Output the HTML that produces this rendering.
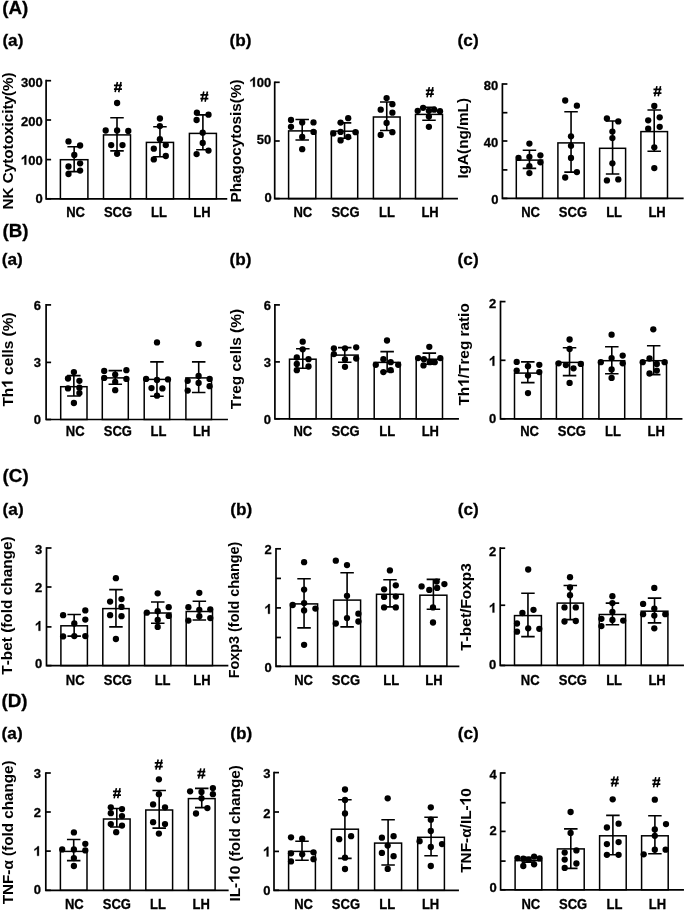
<!DOCTYPE html>
<html><head><meta charset="utf-8"><style>
html,body{margin:0;padding:0;background:#fff;width:685px;height:911px;overflow:hidden}
svg{display:block;will-change:transform}
text{font-family:"Liberation Sans", sans-serif;font-weight:bold;fill:#000;font-kerning:none;white-space:pre;stroke:#000;stroke-width:0.3px}
.tt text,.tt path{stroke-width:0.05px}
</style></head><body>
<svg width="685" height="911" viewBox="0 0 685 911">

<text x="2.2" y="14.4" font-size="18.8">(A)</text>
<text x="2.4" y="45.5" font-size="17.2">(a)</text>
<text x="229.6" y="45.8" font-size="17.2">(b)</text>
<text x="457.6" y="45.8" font-size="17.2">(c)</text>
<text x="2.5" y="236.7" font-size="18.8">(B)</text>
<text x="1.8" y="265.4" font-size="17.2">(a)</text>
<text x="229.6" y="265.2" font-size="17.2">(b)</text>
<text x="457.6" y="265.2" font-size="17.2">(c)</text>
<text x="2.6" y="482.2" font-size="18.8">(C)</text>
<text x="2.6" y="514.7" font-size="17.2">(a)</text>
<text x="230.2" y="514.7" font-size="17.2">(b)</text>
<text x="457.8" y="514.7" font-size="17.2">(c)</text>
<text x="1.5" y="706.7" font-size="18.8">(D)</text>
<text x="1.6" y="738.7" font-size="17.2">(a)</text>
<text x="230.2" y="739.1" font-size="17.2">(b)</text>
<text x="457.8" y="739.1" font-size="17.2">(c)</text>
<rect x="60.4" y="159.7" width="27.5" height="39.1" fill="#fff" stroke="#000" stroke-width="1.5"/>
<rect x="103.5" y="134.9" width="27" height="63.9" fill="#fff" stroke="#000" stroke-width="1.5"/>
<rect x="146.4" y="142.4" width="27.1" height="56.4" fill="#fff" stroke="#000" stroke-width="1.5"/>
<rect x="189.4" y="133.4" width="27" height="65.4" fill="#fff" stroke="#000" stroke-width="1.5"/>
<path d="M74.15 146.8V171.6M67.4 146.8H80.9M67.4 171.6H80.9" stroke="#000" stroke-width="1.6" fill="none"/>
<circle cx="68.5" cy="141.4" r="3.15"/>
<circle cx="80.1" cy="145.5" r="3.15"/>
<circle cx="74.3" cy="155" r="3.15"/>
<circle cx="80.1" cy="163.3" r="3.15"/>
<circle cx="68.5" cy="166.5" r="3.15"/>
<circle cx="80.1" cy="170.6" r="3.15"/>
<circle cx="68.5" cy="174" r="3.15"/>
<text transform="translate(75.55 216.6) scale(1 1.07)" font-size="13" text-anchor="middle">NC</text>
<path d="M117 117.8V150.9M110.25 117.8H123.75M110.25 150.9H123.75" stroke="#000" stroke-width="1.6" fill="none"/>
<circle cx="117.1" cy="103" r="3.15"/>
<circle cx="105.7" cy="130.5" r="3.15"/>
<circle cx="117.1" cy="130.5" r="3.15"/>
<circle cx="128.3" cy="130.9" r="3.15"/>
<circle cx="111.2" cy="145.1" r="3.15"/>
<circle cx="122.5" cy="145.1" r="3.15"/>
<circle cx="117.1" cy="153.8" r="3.15"/>
<path d="M113.95 85.25H121.95M113.95 89.05H121.95" stroke="#000" stroke-width="1.75" fill="none"/><path d="M117.4 82L115.15 92.2M121.05 82L118.7 92.2" stroke="#000" stroke-width="1.6" fill="none"/>
<text transform="translate(118 216.6) scale(1 1.07)" font-size="13" text-anchor="middle">SCG</text>
<path d="M159.95 126.8V156.8M153.2 126.8H166.7M153.2 156.8H166.7" stroke="#000" stroke-width="1.6" fill="none"/>
<circle cx="159.9" cy="118.5" r="3.15"/>
<circle cx="159.9" cy="126.1" r="3.15"/>
<circle cx="159.9" cy="139.2" r="3.15"/>
<circle cx="165.8" cy="145.1" r="3.15"/>
<circle cx="153.8" cy="148.7" r="3.15"/>
<circle cx="165.8" cy="156" r="3.15"/>
<circle cx="153.8" cy="159.4" r="3.15"/>
<text transform="translate(159 216.6) scale(1 1.07)" font-size="13" text-anchor="middle">LL</text>
<path d="M202.9 114.9V149.7M196.15 114.9H209.65M196.15 149.7H209.65" stroke="#000" stroke-width="1.6" fill="none"/>
<circle cx="196.9" cy="112.7" r="3.15"/>
<circle cx="208.5" cy="114.7" r="3.15"/>
<circle cx="196.6" cy="120" r="3.15"/>
<circle cx="202.7" cy="132.7" r="3.15"/>
<circle cx="202.7" cy="142.9" r="3.15"/>
<circle cx="208.5" cy="150.6" r="3.15"/>
<circle cx="196.6" cy="154.1" r="3.15"/>
<path d="M200.35 94.75H208.35M200.35 98.55H208.35" stroke="#000" stroke-width="1.75" fill="none"/><path d="M203.8 91.5L201.55 101.7M207.45 91.5L205.1 101.7" stroke="#000" stroke-width="1.6" fill="none"/>
<text transform="translate(202 216.6) scale(1 1.07)" font-size="13" text-anchor="middle">LH</text>
<path d="M46.1 80.7V198.8H226.4" stroke="#000" stroke-width="1.7" fill="none" stroke-linecap="square"/>
<path d="M46.1 80.7H51.1" stroke="#000" stroke-width="1.7"/>
<g transform="translate(42.7 87.07) scale(1 1.04)"><text x="-21.69" font-size="13">300</text></g>
<path d="M46.1 120H51.1" stroke="#000" stroke-width="1.7"/>
<g transform="translate(42.7 126.17) scale(1 1.04)"><text x="-21.69" font-size="13">200</text></g>
<path d="M46.1 159.6H51.1" stroke="#000" stroke-width="1.7"/>
<g transform="translate(42.7 164.67) scale(1 1.04)"><path d="M-16.43 0.00L-18.22 0.00L-18.22 -6.76Q-19.48 -5.59 -20.91 -4.94L-20.91 -6.57Q-18.83 -7.47 -17.66 -9.31L-16.43 -9.31Z" stroke="#000" stroke-width="0.3"/><text x="-14.46" font-size="13">00</text></g>
<path d="M46.1 198.8H51.1" stroke="#000" stroke-width="1.7"/>
<g transform="translate(42.7 203.47) scale(1 1.04)"><text x="-7.23" font-size="13">0</text></g>
<g class="tt" transform="translate(12.85 140.9) rotate(-90) scale(1.0167 1.02)"><text x="-67.50" font-size="15">NK Cytotoxicity(%)</text></g>
<rect x="288.6" y="130.9" width="27.2" height="67.7" fill="#fff" stroke="#000" stroke-width="1.5"/>
<rect x="331.4" y="131.2" width="26.3" height="67.4" fill="#fff" stroke="#000" stroke-width="1.5"/>
<rect x="373.4" y="117" width="26.7" height="81.6" fill="#fff" stroke="#000" stroke-width="1.5"/>
<rect x="415.5" y="114.4" width="27" height="84.2" fill="#fff" stroke="#000" stroke-width="1.5"/>
<path d="M302.2 119.5V140M295.45 119.5H308.95M295.45 140H308.95" stroke="#000" stroke-width="1.6" fill="none"/>
<circle cx="291" cy="120" r="3.15"/>
<circle cx="302.2" cy="122.4" r="3.15"/>
<circle cx="313.5" cy="122.4" r="3.15"/>
<circle cx="291" cy="126.8" r="3.15"/>
<circle cx="313.5" cy="131.9" r="3.15"/>
<circle cx="302.2" cy="137" r="3.15"/>
<circle cx="302.2" cy="149.2" r="3.15"/>
<text transform="translate(302.8 216.6) scale(1 1.07)" font-size="13" text-anchor="middle">NC</text>
<path d="M344.55 122.9V138.2M337.8 122.9H351.3M337.8 138.2H351.3" stroke="#000" stroke-width="1.6" fill="none"/>
<circle cx="348.2" cy="118.2" r="3.15"/>
<circle cx="340.6" cy="122.6" r="3.15"/>
<circle cx="340.6" cy="131.9" r="3.15"/>
<circle cx="333.3" cy="133.4" r="3.15"/>
<circle cx="355.5" cy="132.2" r="3.15"/>
<circle cx="348.2" cy="137" r="3.15"/>
<circle cx="340.6" cy="140.4" r="3.15"/>
<text transform="translate(345.5 216.6) scale(1 1.07)" font-size="13" text-anchor="middle">SCG</text>
<path d="M386.75 102V130.5M380 102H393.5M380 130.5H393.5" stroke="#000" stroke-width="1.6" fill="none"/>
<circle cx="386.6" cy="98.1" r="3.15"/>
<circle cx="392.4" cy="104.2" r="3.15"/>
<circle cx="380.7" cy="109.7" r="3.15"/>
<circle cx="392.4" cy="112.7" r="3.15"/>
<circle cx="386.6" cy="122.9" r="3.15"/>
<circle cx="392.4" cy="132.2" r="3.15"/>
<circle cx="380.7" cy="134.9" r="3.15"/>
<text transform="translate(387 216.6) scale(1 1.07)" font-size="13" text-anchor="middle">LL</text>
<path d="M429 107.4V120.3M422.25 107.4H435.75M422.25 120.3H435.75" stroke="#000" stroke-width="1.6" fill="none"/>
<circle cx="423.1" cy="107.8" r="3.15"/>
<circle cx="417.7" cy="110.8" r="3.15"/>
<circle cx="428.9" cy="110.8" r="3.15"/>
<circle cx="434.2" cy="109.7" r="3.15"/>
<circle cx="440" cy="111.2" r="3.15"/>
<circle cx="428.9" cy="116.6" r="3.15"/>
<circle cx="428.9" cy="126.8" r="3.15"/>
<path d="M425.85 90.35H433.85M425.85 94.15H433.85" stroke="#000" stroke-width="1.75" fill="none"/><path d="M429.3 87.1L427.05 97.3M432.95 87.1L430.6 97.3" stroke="#000" stroke-width="1.6" fill="none"/>
<text transform="translate(430.1 216.6) scale(1 1.07)" font-size="13" text-anchor="middle">LH</text>
<path d="M274.7 82.3V198.6H457.1" stroke="#000" stroke-width="1.7" fill="none" stroke-linecap="square"/>
<path d="M274.7 82.3H279.7" stroke="#000" stroke-width="1.7"/>
<g transform="translate(271.3 86.87) scale(1 1.04)"><path d="M-16.43 0.00L-18.22 0.00L-18.22 -6.76Q-19.48 -5.59 -20.91 -4.94L-20.91 -6.57Q-18.83 -7.47 -17.66 -9.31L-16.43 -9.31Z" stroke="#000" stroke-width="0.3"/><text x="-14.46" font-size="13">00</text></g>
<path d="M274.7 141H279.7" stroke="#000" stroke-width="1.7"/>
<g transform="translate(271.2 144.27) scale(1 1.04)"><text x="-14.46" font-size="13">50</text></g>
<path d="M274.7 198.6H279.7" stroke="#000" stroke-width="1.7"/>
<g transform="translate(271.7 202.37) scale(1 1.04)"><text x="-7.23" font-size="13">0</text></g>
<g class="tt" transform="translate(240.65 140.9) rotate(-90) scale(1.0187 1.02)"><text x="-60.43" font-size="15">Phagocytosis(%)</text></g>
<rect x="516.3" y="160.1" width="26.3" height="38.3" fill="#fff" stroke="#000" stroke-width="1.5"/>
<rect x="557.9" y="142.9" width="26.3" height="55.5" fill="#fff" stroke="#000" stroke-width="1.5"/>
<rect x="599.6" y="148.3" width="26" height="50.1" fill="#fff" stroke="#000" stroke-width="1.5"/>
<rect x="640.9" y="131.6" width="26.6" height="66.8" fill="#fff" stroke="#000" stroke-width="1.5"/>
<path d="M529.45 150.2V168.4M522.7 150.2H536.2M522.7 168.4H536.2" stroke="#000" stroke-width="1.6" fill="none"/>
<circle cx="529.4" cy="143.6" r="3.15"/>
<circle cx="518.5" cy="157.9" r="3.15"/>
<circle cx="529.4" cy="156.8" r="3.15"/>
<circle cx="540.4" cy="155.3" r="3.15"/>
<circle cx="540.4" cy="162.3" r="3.15"/>
<circle cx="529.4" cy="166.2" r="3.15"/>
<circle cx="529.4" cy="173.1" r="3.15"/>
<text transform="translate(530.6 216.6) scale(1 1.07)" font-size="13" text-anchor="middle">NC</text>
<path d="M571.05 111.8V172.1M564.3 111.8H577.8M564.3 172.1H577.8" stroke="#000" stroke-width="1.6" fill="none"/>
<circle cx="565.2" cy="100.5" r="3.15"/>
<circle cx="576.9" cy="105.7" r="3.15"/>
<circle cx="571" cy="136.3" r="3.15"/>
<circle cx="571" cy="145.8" r="3.15"/>
<circle cx="571" cy="157.9" r="3.15"/>
<circle cx="576.9" cy="172.1" r="3.15"/>
<circle cx="565.2" cy="177.5" r="3.15"/>
<text transform="translate(572.95 216.6) scale(1 1.07)" font-size="13" text-anchor="middle">SCG</text>
<path d="M612.6 121V174M605.85 121H619.35M605.85 174H619.35" stroke="#000" stroke-width="1.6" fill="none"/>
<circle cx="606.9" cy="118.5" r="3.15"/>
<circle cx="618.3" cy="121.4" r="3.15"/>
<circle cx="612.4" cy="131.6" r="3.15"/>
<circle cx="612.4" cy="138.1" r="3.15"/>
<circle cx="612.4" cy="163.3" r="3.15"/>
<circle cx="606.9" cy="180.4" r="3.15"/>
<circle cx="618.3" cy="179.4" r="3.15"/>
<text transform="translate(614.1 216.6) scale(1 1.07)" font-size="13" text-anchor="middle">LL</text>
<path d="M654.2 110V151.2M647.45 110H660.95M647.45 151.2H660.95" stroke="#000" stroke-width="1.6" fill="none"/>
<circle cx="654.3" cy="106" r="3.15"/>
<circle cx="659.7" cy="117.3" r="3.15"/>
<circle cx="648.2" cy="120.3" r="3.15"/>
<circle cx="659.7" cy="126.8" r="3.15"/>
<circle cx="648.2" cy="128.7" r="3.15"/>
<circle cx="654.3" cy="147.3" r="3.15"/>
<circle cx="654.3" cy="168.1" r="3.15"/>
<path d="M653.45 89.35H661.45M653.45 93.15H661.45" stroke="#000" stroke-width="1.75" fill="none"/><path d="M656.9 86.1L654.65 96.3M660.55 86.1L658.2 96.3" stroke="#000" stroke-width="1.6" fill="none"/>
<text transform="translate(657.1 216.6) scale(1 1.07)" font-size="13" text-anchor="middle">LH</text>
<path d="M502.4 84V198.4H682.8" stroke="#000" stroke-width="1.7" fill="none" stroke-linecap="square"/>
<path d="M502.4 84H507.4" stroke="#000" stroke-width="1.7"/>
<g transform="translate(498.2 89.87) scale(1 1.04)"><text x="-14.46" font-size="13">80</text></g>
<path d="M502.4 112.7H507.4" stroke="#000" stroke-width="1.7"/>
<path d="M502.4 141H507.4" stroke="#000" stroke-width="1.7"/>
<g transform="translate(498.2 146.97) scale(1 1.04)"><text x="-14.46" font-size="13">40</text></g>
<path d="M502.4 169.9H507.4" stroke="#000" stroke-width="1.7"/>
<path d="M502.4 198.4H507.4" stroke="#000" stroke-width="1.7"/>
<g transform="translate(498.4 203.77) scale(1 1.04)"><text x="-7.23" font-size="13">0</text></g>
<g class="tt" transform="translate(467.85 138.2) rotate(-90) scale(1.0182 1.02)"><text x="-39.57" font-size="15">IgA(ng/mL)</text></g>
<rect x="60.7" y="386.7" width="26.3" height="32.8" fill="#fff" stroke="#000" stroke-width="1.5"/>
<rect x="102.3" y="377.9" width="26" height="41.6" fill="#fff" stroke="#000" stroke-width="1.5"/>
<rect x="144.2" y="379.4" width="25.5" height="40.1" fill="#fff" stroke="#000" stroke-width="1.5"/>
<rect x="185.9" y="377.9" width="25.6" height="41.6" fill="#fff" stroke="#000" stroke-width="1.5"/>
<path d="M73.85 375.6V396M67.1 375.6H80.6M67.1 396H80.6" stroke="#000" stroke-width="1.6" fill="none"/>
<circle cx="73.9" cy="372.1" r="3.15"/>
<circle cx="68" cy="378.5" r="3.15"/>
<circle cx="79.4" cy="380.8" r="3.15"/>
<circle cx="68" cy="388.4" r="3.15"/>
<circle cx="79.4" cy="387.7" r="3.15"/>
<circle cx="79.4" cy="393.1" r="3.15"/>
<circle cx="73.9" cy="403" r="3.15"/>
<text transform="translate(75.15 435.5) scale(1 1.07)" font-size="13" text-anchor="middle">NC</text>
<path d="M115.3 370.6V384.3M108.55 370.6H122.05M108.55 384.3H122.05" stroke="#000" stroke-width="1.6" fill="none"/>
<circle cx="104.2" cy="370.9" r="3.15"/>
<circle cx="126.4" cy="370.2" r="3.15"/>
<circle cx="115.2" cy="374.6" r="3.15"/>
<circle cx="104.2" cy="377.9" r="3.15"/>
<circle cx="126.4" cy="378.9" r="3.15"/>
<circle cx="115.2" cy="381.9" r="3.15"/>
<circle cx="115.2" cy="390.2" r="3.15"/>
<text transform="translate(117.9 435.5) scale(1 1.07)" font-size="13" text-anchor="middle">SCG</text>
<path d="M156.95 361.9V396.2M150.2 361.9H163.7M150.2 396.2H163.7" stroke="#000" stroke-width="1.6" fill="none"/>
<circle cx="157" cy="342.4" r="3.15"/>
<circle cx="146.1" cy="378.9" r="3.15"/>
<circle cx="157" cy="380" r="3.15"/>
<circle cx="168" cy="379.4" r="3.15"/>
<circle cx="151.5" cy="388.1" r="3.15"/>
<circle cx="162.4" cy="388.4" r="3.15"/>
<circle cx="157" cy="395.7" r="3.15"/>
<text transform="translate(158.55 435.5) scale(1 1.07)" font-size="13" text-anchor="middle">LL</text>
<path d="M198.7 361.9V392.5M191.95 361.9H205.45M191.95 392.5H205.45" stroke="#000" stroke-width="1.6" fill="none"/>
<circle cx="198.6" cy="343.9" r="3.15"/>
<circle cx="198.6" cy="376" r="3.15"/>
<circle cx="209.6" cy="378.9" r="3.15"/>
<circle cx="187.7" cy="380.8" r="3.15"/>
<circle cx="198.6" cy="382.9" r="3.15"/>
<circle cx="209.6" cy="386.2" r="3.15"/>
<circle cx="187.7" cy="390.6" r="3.15"/>
<text transform="translate(201.7 435.5) scale(1 1.07)" font-size="13" text-anchor="middle">LH</text>
<path d="M46.1 304.9V419.5H227.1" stroke="#000" stroke-width="1.7" fill="none" stroke-linecap="square"/>
<path d="M46.1 304.9H51.1" stroke="#000" stroke-width="1.7"/>
<g transform="translate(41 310.22) scale(1 1.04)"><text x="-7.23" font-size="13">6</text></g>
<path d="M46.1 362.4H51.1" stroke="#000" stroke-width="1.7"/>
<g transform="translate(41 367.07) scale(1 1.04)"><text x="-7.23" font-size="13">3</text></g>
<path d="M46.1 419.5H51.1" stroke="#000" stroke-width="1.7"/>
<g transform="translate(41 424.07) scale(1 1.04)"><text x="-7.23" font-size="13">0</text></g>
<g class="tt" transform="translate(12.65 359.5) rotate(-90) scale(1.0271 1.02)"><text x="-45.85" font-size="15">Th</text><path d="M-21.45 0.00L-23.52 0.00L-23.52 -7.80Q-24.97 -6.45 -26.62 -5.70L-26.62 -7.58Q-24.22 -8.62 -22.87 -10.74L-21.45 -10.74Z" stroke="#000" stroke-width="0.3"/><text x="-19.18" font-size="15"> cells (%)</text></g>
<rect x="289.5" y="359.2" width="26.6" height="59.6" fill="#fff" stroke="#000" stroke-width="1.5"/>
<rect x="331.4" y="355.1" width="26.7" height="63.7" fill="#fff" stroke="#000" stroke-width="1.5"/>
<rect x="374.2" y="362.4" width="25.9" height="56.4" fill="#fff" stroke="#000" stroke-width="1.5"/>
<rect x="416.2" y="359.2" width="26.3" height="59.6" fill="#fff" stroke="#000" stroke-width="1.5"/>
<path d="M302.8 348.7V368.3M296.05 348.7H309.55M296.05 368.3H309.55" stroke="#000" stroke-width="1.6" fill="none"/>
<circle cx="302.7" cy="341.7" r="3.15"/>
<circle cx="302.7" cy="349.3" r="3.15"/>
<circle cx="296.8" cy="357.5" r="3.15"/>
<circle cx="308.5" cy="359.2" r="3.15"/>
<circle cx="296.8" cy="363.9" r="3.15"/>
<circle cx="308.5" cy="366.5" r="3.15"/>
<circle cx="296.8" cy="370.2" r="3.15"/>
<text transform="translate(302.8 435.8) scale(1 1.07)" font-size="13" text-anchor="middle">NC</text>
<path d="M344.75 347.6V362.2M338 347.6H351.5M338 362.2H351.5" stroke="#000" stroke-width="1.6" fill="none"/>
<circle cx="333.9" cy="348.3" r="3.15"/>
<circle cx="345" cy="348.3" r="3.15"/>
<circle cx="356.2" cy="347.3" r="3.15"/>
<circle cx="333.9" cy="354.1" r="3.15"/>
<circle cx="345" cy="359.5" r="3.15"/>
<circle cx="356.2" cy="358.5" r="3.15"/>
<circle cx="345" cy="366.8" r="3.15"/>
<text transform="translate(345.6 435.8) scale(1 1.07)" font-size="13" text-anchor="middle">SCG</text>
<path d="M387.15 351.6V371.6M380.4 351.6H393.9M380.4 371.6H393.9" stroke="#000" stroke-width="1.6" fill="none"/>
<circle cx="387" cy="340.5" r="3.15"/>
<circle cx="383.4" cy="359.2" r="3.15"/>
<circle cx="390.7" cy="362.2" r="3.15"/>
<circle cx="375.8" cy="364.8" r="3.15"/>
<circle cx="398.2" cy="364.8" r="3.15"/>
<circle cx="390.7" cy="370.2" r="3.15"/>
<circle cx="383.4" cy="372.1" r="3.15"/>
<text transform="translate(387.2 435.8) scale(1 1.07)" font-size="13" text-anchor="middle">LL</text>
<path d="M429.35 353.1V364.3M422.6 353.1H436.1M422.6 364.3H436.1" stroke="#000" stroke-width="1.6" fill="none"/>
<circle cx="429.3" cy="346.8" r="3.15"/>
<circle cx="418.1" cy="358.1" r="3.15"/>
<circle cx="423.9" cy="359.2" r="3.15"/>
<circle cx="440.3" cy="358.1" r="3.15"/>
<circle cx="429.8" cy="362.2" r="3.15"/>
<circle cx="434.7" cy="362.2" r="3.15"/>
<circle cx="423.5" cy="365.4" r="3.15"/>
<text transform="translate(430.3 435.8) scale(1 1.07)" font-size="13" text-anchor="middle">LH</text>
<path d="M274.9 304.9V418.8H458.1" stroke="#000" stroke-width="1.7" fill="none" stroke-linecap="square"/>
<path d="M274.9 304.9H279.9" stroke="#000" stroke-width="1.7"/>
<g transform="translate(270.9 310.17) scale(1 1.04)"><text x="-7.23" font-size="13">6</text></g>
<path d="M274.9 361.9H279.9" stroke="#000" stroke-width="1.7"/>
<g transform="translate(270.9 367.07) scale(1 1.04)"><text x="-7.23" font-size="13">3</text></g>
<path d="M274.9 418.8H279.9" stroke="#000" stroke-width="1.7"/>
<g transform="translate(270.9 424.07) scale(1 1.04)"><text x="-7.23" font-size="13">0</text></g>
<g class="tt" transform="translate(241.15 359.5) rotate(-90) scale(1.0281 1.02)"><text x="-48.35" font-size="15">Treg cells (%)</text></g>
<rect x="514.5" y="373.1" width="26.6" height="45.7" fill="#fff" stroke="#000" stroke-width="1.5"/>
<rect x="556.4" y="362.4" width="26.3" height="56.4" fill="#fff" stroke="#000" stroke-width="1.5"/>
<rect x="598.9" y="360.7" width="25.8" height="58.1" fill="#fff" stroke="#000" stroke-width="1.5"/>
<rect x="640.9" y="360.7" width="25.6" height="58.1" fill="#fff" stroke="#000" stroke-width="1.5"/>
<path d="M527.8 361.9V382.6M521.05 361.9H534.55M521.05 382.6H534.55" stroke="#000" stroke-width="1.6" fill="none"/>
<circle cx="516.7" cy="361.9" r="3.15"/>
<circle cx="528" cy="366.2" r="3.15"/>
<circle cx="539.3" cy="364.8" r="3.15"/>
<circle cx="516.7" cy="370.6" r="3.15"/>
<circle cx="539.3" cy="372.1" r="3.15"/>
<circle cx="528" cy="375.6" r="3.15"/>
<circle cx="528" cy="393.1" r="3.15"/>
<text transform="translate(529.6 435.5) scale(1 1.07)" font-size="13" text-anchor="middle">NC</text>
<path d="M569.55 347.8V375.6M562.8 347.8H576.3M562.8 375.6H576.3" stroke="#000" stroke-width="1.6" fill="none"/>
<circle cx="569.6" cy="339.5" r="3.15"/>
<circle cx="569.6" cy="349" r="3.15"/>
<circle cx="558.6" cy="363.3" r="3.15"/>
<circle cx="565.9" cy="365.1" r="3.15"/>
<circle cx="580.8" cy="363.9" r="3.15"/>
<circle cx="573.5" cy="368.3" r="3.15"/>
<circle cx="569.6" cy="382.9" r="3.15"/>
<text transform="translate(571.9 435.5) scale(1 1.07)" font-size="13" text-anchor="middle">SCG</text>
<path d="M611.8 346.8V373.8M605.05 346.8H618.55M605.05 373.8H618.55" stroke="#000" stroke-width="1.6" fill="none"/>
<circle cx="611.6" cy="334.7" r="3.15"/>
<circle cx="622.7" cy="355.6" r="3.15"/>
<circle cx="611.6" cy="358.1" r="3.15"/>
<circle cx="600.8" cy="362.2" r="3.15"/>
<circle cx="622.7" cy="363.3" r="3.15"/>
<circle cx="611.6" cy="369.5" r="3.15"/>
<circle cx="611.6" cy="377.9" r="3.15"/>
<text transform="translate(613 435.5) scale(1 1.07)" font-size="13" text-anchor="middle">LL</text>
<path d="M653.7 345.8V374.6M646.95 345.8H660.45M646.95 374.6H660.45" stroke="#000" stroke-width="1.6" fill="none"/>
<circle cx="653.3" cy="329.3" r="3.15"/>
<circle cx="649.5" cy="358.5" r="3.15"/>
<circle cx="642.7" cy="362.2" r="3.15"/>
<circle cx="664.6" cy="362.2" r="3.15"/>
<circle cx="656.8" cy="363.9" r="3.15"/>
<circle cx="656.8" cy="370.6" r="3.15"/>
<circle cx="649.5" cy="373.5" r="3.15"/>
<text transform="translate(656.25 435.5) scale(1 1.07)" font-size="13" text-anchor="middle">LH</text>
<path d="M500.5 301.6V418.8H681.6" stroke="#000" stroke-width="1.7" fill="none" stroke-linecap="square"/>
<path d="M500.5 301.6H505.5" stroke="#000" stroke-width="1.7"/>
<g transform="translate(496.3 308.37) scale(1 1.04)"><text x="-7.23" font-size="13">2</text></g>
<path d="M500.5 360.3H505.5" stroke="#000" stroke-width="1.7"/>
<g transform="translate(496.3 365.77) scale(1 1.04)"><path d="M-1.97 0.00L-3.76 0.00L-3.76 -6.76Q-5.02 -5.59 -6.45 -4.94L-6.45 -6.57Q-4.37 -7.47 -3.20 -9.31L-1.97 -9.31Z" stroke="#000" stroke-width="0.3"/></g>
<path d="M500.5 418.8H505.5" stroke="#000" stroke-width="1.7"/>
<g transform="translate(496.3 422.97) scale(1 1.04)"><text x="-7.23" font-size="13">0</text></g>
<g class="tt" transform="translate(468.95 354.8) rotate(-90) scale(1.0232 1.02)"><text x="-49.59" font-size="15">Th</text><path d="M-25.19 0.00L-27.26 0.00L-27.26 -7.80Q-28.72 -6.45 -30.37 -5.70L-30.37 -7.58Q-27.97 -8.62 -26.62 -10.74L-25.19 -10.74Z" stroke="#000" stroke-width="0.3"/><text x="-22.92" font-size="15">/Treg ratio</text></g>
<rect x="60.9" y="625.8" width="26.5" height="39.8" fill="#fff" stroke="#000" stroke-width="1.5"/>
<rect x="102.8" y="608.6" width="26.3" height="57" fill="#fff" stroke="#000" stroke-width="1.5"/>
<rect x="144.6" y="613" width="26.3" height="52.6" fill="#fff" stroke="#000" stroke-width="1.5"/>
<rect x="186.2" y="611.5" width="26.3" height="54.1" fill="#fff" stroke="#000" stroke-width="1.5"/>
<path d="M74.15 614.5V636.1M67.4 614.5H80.9M67.4 636.1H80.9" stroke="#000" stroke-width="1.6" fill="none"/>
<circle cx="63.1" cy="615.2" r="3.15"/>
<circle cx="85.3" cy="610.4" r="3.15"/>
<circle cx="85.3" cy="619.6" r="3.15"/>
<circle cx="74.3" cy="623.5" r="3.15"/>
<circle cx="63.1" cy="636.4" r="3.15"/>
<circle cx="74.3" cy="636.1" r="3.15"/>
<circle cx="85.3" cy="636.1" r="3.15"/>
<text transform="translate(75.15 684.6) scale(1 1.07)" font-size="13" text-anchor="middle">NC</text>
<path d="M115.95 589.6V626.9M109.2 589.6H122.7M109.2 626.9H122.7" stroke="#000" stroke-width="1.6" fill="none"/>
<circle cx="115.9" cy="578.2" r="3.15"/>
<circle cx="110.1" cy="601.6" r="3.15"/>
<circle cx="121.5" cy="599.1" r="3.15"/>
<circle cx="121.5" cy="606.9" r="3.15"/>
<circle cx="110.1" cy="615.2" r="3.15"/>
<circle cx="121.5" cy="616.2" r="3.15"/>
<circle cx="115.9" cy="639" r="3.15"/>
<text transform="translate(117.9 684.6) scale(1 1.07)" font-size="13" text-anchor="middle">SCG</text>
<path d="M157.75 602V623.2M151 602H164.5M151 623.2H164.5" stroke="#000" stroke-width="1.6" fill="none"/>
<circle cx="157.7" cy="593.3" r="3.15"/>
<circle cx="168.7" cy="607.2" r="3.15"/>
<circle cx="146.8" cy="612.7" r="3.15"/>
<circle cx="157.7" cy="611.2" r="3.15"/>
<circle cx="168.7" cy="615.9" r="3.15"/>
<circle cx="157.7" cy="620" r="3.15"/>
<circle cx="157.7" cy="626.9" r="3.15"/>
<text transform="translate(162.6 684.6) scale(1 1.07)" font-size="13" text-anchor="middle">LL</text>
<path d="M199.35 601.3V620M192.6 601.3H206.1M192.6 620H206.1" stroke="#000" stroke-width="1.6" fill="none"/>
<circle cx="199.3" cy="592.8" r="3.15"/>
<circle cx="188.4" cy="607.2" r="3.15"/>
<circle cx="210.3" cy="609.3" r="3.15"/>
<circle cx="199.3" cy="609.8" r="3.15"/>
<circle cx="199.3" cy="616.2" r="3.15"/>
<circle cx="210.3" cy="618.1" r="3.15"/>
<circle cx="188.4" cy="620.6" r="3.15"/>
<text transform="translate(202 684.6) scale(1 1.07)" font-size="13" text-anchor="middle">LH</text>
<path d="M46.5 548V665.6H227.5" stroke="#000" stroke-width="1.7" fill="none" stroke-linecap="square"/>
<path d="M46.5 548H51.5" stroke="#000" stroke-width="1.7"/>
<g transform="translate(42.3 553.87) scale(1 1.04)"><text x="-7.23" font-size="13">3</text></g>
<path d="M46.5 587H51.5" stroke="#000" stroke-width="1.7"/>
<g transform="translate(42.3 592.37) scale(1 1.04)"><text x="-7.23" font-size="13">2</text></g>
<path d="M46.5 626.9H51.5" stroke="#000" stroke-width="1.7"/>
<g transform="translate(42.3 630.77) scale(1 1.04)"><path d="M-1.97 0.00L-3.76 0.00L-3.76 -6.76Q-5.02 -5.59 -6.45 -4.94L-6.45 -6.57Q-4.37 -7.47 -3.20 -9.31L-1.97 -9.31Z" stroke="#000" stroke-width="0.3"/></g>
<path d="M46.5 665.6H51.5" stroke="#000" stroke-width="1.7"/>
<g transform="translate(42.3 667.52) scale(1 1.04)"><text x="-7.23" font-size="13">0</text></g>
<g class="tt" transform="translate(12.15 605.9) rotate(-90) scale(1.0259 1.02)"><text x="-67.08" font-size="15">T-bet (fold change)</text></g>
<rect x="290.5" y="603.9" width="27.1" height="62.4" fill="#fff" stroke="#000" stroke-width="1.5"/>
<rect x="333.6" y="600.1" width="27" height="66.2" fill="#fff" stroke="#000" stroke-width="1.5"/>
<rect x="376.5" y="594.3" width="27" height="72" fill="#fff" stroke="#000" stroke-width="1.5"/>
<rect x="419.9" y="595.2" width="27" height="71.1" fill="#fff" stroke="#000" stroke-width="1.5"/>
<path d="M304.05 578.7V627.9M297.3 578.7H310.8M297.3 627.9H310.8" stroke="#000" stroke-width="1.6" fill="none"/>
<circle cx="304.1" cy="562.2" r="3.15"/>
<circle cx="304.1" cy="589.6" r="3.15"/>
<circle cx="292.7" cy="605" r="3.15"/>
<circle cx="304.1" cy="603.1" r="3.15"/>
<circle cx="304.1" cy="610.4" r="3.15"/>
<circle cx="315.4" cy="608.6" r="3.15"/>
<circle cx="304.1" cy="644.8" r="3.15"/>
<text transform="translate(303.6 684.6) scale(1 1.07)" font-size="13" text-anchor="middle">NC</text>
<path d="M347.1 572.8V626.9M340.35 572.8H353.85M340.35 626.9H353.85" stroke="#000" stroke-width="1.6" fill="none"/>
<circle cx="335.8" cy="560.7" r="3.15"/>
<circle cx="347" cy="565.1" r="3.15"/>
<circle cx="347" cy="595.8" r="3.15"/>
<circle cx="358.4" cy="613.7" r="3.15"/>
<circle cx="347" cy="618.1" r="3.15"/>
<circle cx="358.4" cy="621.5" r="3.15"/>
<circle cx="335.8" cy="623.5" r="3.15"/>
<text transform="translate(345.95 684.6) scale(1 1.07)" font-size="13" text-anchor="middle">SCG</text>
<path d="M390 579.7V606.9M383.25 579.7H396.75M383.25 606.9H396.75" stroke="#000" stroke-width="1.6" fill="none"/>
<circle cx="389.9" cy="570.4" r="3.15"/>
<circle cx="395.8" cy="585.3" r="3.15"/>
<circle cx="384.1" cy="589.3" r="3.15"/>
<circle cx="384.1" cy="596.9" r="3.15"/>
<circle cx="395.8" cy="596.6" r="3.15"/>
<circle cx="384.1" cy="607.4" r="3.15"/>
<circle cx="395.8" cy="607.4" r="3.15"/>
<text transform="translate(391.2 684.6) scale(1 1.07)" font-size="13" text-anchor="middle">LL</text>
<path d="M433.4 579.4V609.3M426.65 579.4H440.15M426.65 609.3H440.15" stroke="#000" stroke-width="1.6" fill="none"/>
<circle cx="436.6" cy="581.6" r="3.15"/>
<circle cx="444.4" cy="584.1" r="3.15"/>
<circle cx="421.6" cy="586.4" r="3.15"/>
<circle cx="437.1" cy="587.9" r="3.15"/>
<circle cx="429.3" cy="589.9" r="3.15"/>
<circle cx="433" cy="607.4" r="3.15"/>
<circle cx="433" cy="622.5" r="3.15"/>
<text transform="translate(434 684.6) scale(1 1.07)" font-size="13" text-anchor="middle">LH</text>
<path d="M276 548.8V666.3H458.5" stroke="#000" stroke-width="1.7" fill="none" stroke-linecap="square"/>
<path d="M276 548.8H281" stroke="#000" stroke-width="1.7"/>
<g transform="translate(271.8 554.27) scale(1 1.04)"><text x="-7.23" font-size="13">2</text></g>
<path d="M276 578.4H281" stroke="#000" stroke-width="1.7"/>
<path d="M276 607.9H281" stroke="#000" stroke-width="1.7"/>
<g transform="translate(271.8 613.77) scale(1 1.04)"><path d="M-1.97 0.00L-3.76 0.00L-3.76 -6.76Q-5.02 -5.59 -6.45 -4.94L-6.45 -6.57Q-4.37 -7.47 -3.20 -9.31L-1.97 -9.31Z" stroke="#000" stroke-width="0.3"/></g>
<path d="M276 637.5H281" stroke="#000" stroke-width="1.7"/>
<path d="M276 666.3H281" stroke="#000" stroke-width="1.7"/>
<g transform="translate(271.8 672.27) scale(1 1.04)"><text x="-7.23" font-size="13">0</text></g>
<g class="tt" transform="translate(239.25 609.9) rotate(-90) scale(0.9587 1.02)"><text x="-71.25" font-size="15">Foxp3 (fold change)</text></g>
<rect x="514.5" y="615.6" width="26.9" height="49.8" fill="#fff" stroke="#000" stroke-width="1.5"/>
<rect x="557.2" y="603.1" width="26.2" height="62.3" fill="#fff" stroke="#000" stroke-width="1.5"/>
<rect x="599.3" y="614.5" width="26.3" height="50.9" fill="#fff" stroke="#000" stroke-width="1.5"/>
<rect x="641.2" y="611.2" width="26.7" height="54.2" fill="#fff" stroke="#000" stroke-width="1.5"/>
<path d="M527.95 593.3V636.6M521.2 593.3H534.7M521.2 636.6H534.7" stroke="#000" stroke-width="1.6" fill="none"/>
<circle cx="528.2" cy="569.5" r="3.15"/>
<circle cx="522.4" cy="613" r="3.15"/>
<circle cx="533.5" cy="609.8" r="3.15"/>
<circle cx="517" cy="623.5" r="3.15"/>
<circle cx="528.2" cy="628.3" r="3.15"/>
<circle cx="539.3" cy="628.8" r="3.15"/>
<circle cx="517" cy="631.7" r="3.15"/>
<text transform="translate(530.15 684.6) scale(1 1.07)" font-size="13" text-anchor="middle">NC</text>
<path d="M570.3 585.5V619.6M563.55 585.5H577.05M563.55 619.6H577.05" stroke="#000" stroke-width="1.6" fill="none"/>
<circle cx="570" cy="577.2" r="3.15"/>
<circle cx="570" cy="587.4" r="3.15"/>
<circle cx="570" cy="595.2" r="3.15"/>
<circle cx="564.5" cy="607.4" r="3.15"/>
<circle cx="575.8" cy="607.4" r="3.15"/>
<circle cx="564.5" cy="621.5" r="3.15"/>
<circle cx="575.8" cy="621" r="3.15"/>
<text transform="translate(572.85 684.6) scale(1 1.07)" font-size="13" text-anchor="middle">SCG</text>
<path d="M612.45 603.1V624.7M605.7 603.1H619.2M605.7 624.7H619.2" stroke="#000" stroke-width="1.6" fill="none"/>
<circle cx="612.4" cy="596.2" r="3.15"/>
<circle cx="612.4" cy="603.1" r="3.15"/>
<circle cx="612.4" cy="611.8" r="3.15"/>
<circle cx="601.4" cy="618.8" r="3.15"/>
<circle cx="612.4" cy="620" r="3.15"/>
<circle cx="623.2" cy="620.6" r="3.15"/>
<circle cx="601.4" cy="626.1" r="3.15"/>
<text transform="translate(614.1 684.6) scale(1 1.07)" font-size="13" text-anchor="middle">LL</text>
<path d="M654.55 598.1V622.9M647.8 598.1H661.3M647.8 622.9H661.3" stroke="#000" stroke-width="1.6" fill="none"/>
<circle cx="654.3" cy="587.9" r="3.15"/>
<circle cx="643.1" cy="603.9" r="3.15"/>
<circle cx="654.3" cy="608.6" r="3.15"/>
<circle cx="643.1" cy="614.2" r="3.15"/>
<circle cx="654.3" cy="615.6" r="3.15"/>
<circle cx="665.3" cy="614.2" r="3.15"/>
<circle cx="654.3" cy="628.3" r="3.15"/>
<text transform="translate(657.1 684.6) scale(1 1.07)" font-size="13" text-anchor="middle">LH</text>
<path d="M500.2 548.2V665.4H683.1" stroke="#000" stroke-width="1.7" fill="none" stroke-linecap="square"/>
<path d="M500.2 548.2H505.2" stroke="#000" stroke-width="1.7"/>
<g transform="translate(496.3 555.77) scale(1 1.04)"><text x="-7.23" font-size="13">2</text></g>
<path d="M500.2 605.25H505.2" stroke="#000" stroke-width="1.7"/>
<g transform="translate(496.3 612.57) scale(1 1.04)"><path d="M-1.97 0.00L-3.76 0.00L-3.76 -6.76Q-5.02 -5.59 -6.45 -4.94L-6.45 -6.57Q-4.37 -7.47 -3.20 -9.31L-1.97 -9.31Z" stroke="#000" stroke-width="0.3"/></g>
<path d="M500.2 665.5H505.2" stroke="#000" stroke-width="1.7"/>
<g transform="translate(496.3 669.27) scale(1 1.04)"><text x="-7.23" font-size="13">0</text></g>
<g class="tt" transform="translate(470.85 607.3) rotate(-90) scale(1.0319 1.02)"><text x="-42.09" font-size="15">T-bet/Foxp3</text></g>
<rect x="60.4" y="851.4" width="26.6" height="38.9" fill="#fff" stroke="#000" stroke-width="1.5"/>
<rect x="103.5" y="819" width="26.6" height="71.3" fill="#fff" stroke="#000" stroke-width="1.5"/>
<rect x="145.8" y="810" width="26.8" height="80.3" fill="#fff" stroke="#000" stroke-width="1.5"/>
<rect x="188.4" y="798.6" width="26.7" height="91.7" fill="#fff" stroke="#000" stroke-width="1.5"/>
<path d="M73.7 839.5V860.6M66.95 839.5H80.45M66.95 860.6H80.45" stroke="#000" stroke-width="1.6" fill="none"/>
<circle cx="73.9" cy="832.4" r="3.15"/>
<circle cx="85.3" cy="843.8" r="3.15"/>
<circle cx="62.2" cy="849.4" r="3.15"/>
<circle cx="73.9" cy="849.4" r="3.15"/>
<circle cx="85.3" cy="850.4" r="3.15"/>
<circle cx="73.9" cy="858.1" r="3.15"/>
<circle cx="73.9" cy="866" r="3.15"/>
<text transform="translate(74.3 909.25) scale(1 1.07)" font-size="13" text-anchor="middle">NC</text>
<path d="M116.8 808.5V827M110.05 808.5H123.55M110.05 827H123.55" stroke="#000" stroke-width="1.6" fill="none"/>
<circle cx="110.8" cy="807.3" r="3.15"/>
<circle cx="122" cy="809.1" r="3.15"/>
<circle cx="110.8" cy="813.2" r="3.15"/>
<circle cx="122" cy="816.1" r="3.15"/>
<circle cx="110.8" cy="824.1" r="3.15"/>
<circle cx="122" cy="825.6" r="3.15"/>
<circle cx="116.2" cy="832.2" r="3.15"/>
<path d="M112.95 791.35H120.95M112.95 795.15H120.95" stroke="#000" stroke-width="1.75" fill="none"/><path d="M116.4 788.1L114.15 798.3M120.05 788.1L117.7 798.3" stroke="#000" stroke-width="1.6" fill="none"/>
<text transform="translate(116.9 909.25) scale(1 1.07)" font-size="13" text-anchor="middle">SCG</text>
<path d="M159.2 790.5V828.1M152.45 790.5H165.95M152.45 828.1H165.95" stroke="#000" stroke-width="1.6" fill="none"/>
<circle cx="158.9" cy="779.3" r="3.15"/>
<circle cx="158.9" cy="794.2" r="3.15"/>
<circle cx="153.1" cy="804.4" r="3.15"/>
<circle cx="165" cy="807.3" r="3.15"/>
<circle cx="153.1" cy="822.2" r="3.15"/>
<circle cx="165" cy="824.1" r="3.15"/>
<circle cx="158.9" cy="833.6" r="3.15"/>
<path d="M154.75 762.75H162.75M154.75 766.55H162.75" stroke="#000" stroke-width="1.75" fill="none"/><path d="M158.2 759.5L155.95 769.7M161.85 759.5L159.5 769.7" stroke="#000" stroke-width="1.6" fill="none"/>
<text transform="translate(158 909.25) scale(1 1.07)" font-size="13" text-anchor="middle">LL</text>
<path d="M201.75 788.4V807.6M195 788.4H208.5M195 807.6H208.5" stroke="#000" stroke-width="1.6" fill="none"/>
<circle cx="212.9" cy="788.1" r="3.15"/>
<circle cx="190.1" cy="791.3" r="3.15"/>
<circle cx="201.5" cy="792" r="3.15"/>
<circle cx="212.9" cy="794.2" r="3.15"/>
<circle cx="201.5" cy="798.3" r="3.15"/>
<circle cx="207.4" cy="808.1" r="3.15"/>
<circle cx="196" cy="813.5" r="3.15"/>
<path d="M197.35 771.65H205.35M197.35 775.45H205.35" stroke="#000" stroke-width="1.75" fill="none"/><path d="M200.8 768.4L198.55 778.6M204.45 768.4L202.1 778.6" stroke="#000" stroke-width="1.6" fill="none"/>
<text transform="translate(201.25 909.25) scale(1 1.07)" font-size="13" text-anchor="middle">LH</text>
<path d="M45.8 773V890.3H227.8" stroke="#000" stroke-width="1.7" fill="none" stroke-linecap="square"/>
<path d="M45.8 773H50.8" stroke="#000" stroke-width="1.7"/>
<g transform="translate(40.9 778.17) scale(1 1.04)"><text x="-7.23" font-size="13">3</text></g>
<path d="M45.8 812H50.8" stroke="#000" stroke-width="1.7"/>
<g transform="translate(40.9 817.27) scale(1 1.04)"><text x="-7.23" font-size="13">2</text></g>
<path d="M45.8 851.1H50.8" stroke="#000" stroke-width="1.7"/>
<g transform="translate(40.9 855.87) scale(1 1.04)"><path d="M-1.97 0.00L-3.76 0.00L-3.76 -6.76Q-5.02 -5.59 -6.45 -4.94L-6.45 -6.57Q-4.37 -7.47 -3.20 -9.31L-1.97 -9.31Z" stroke="#000" stroke-width="0.3"/></g>
<path d="M45.8 890.3H50.8" stroke="#000" stroke-width="1.7"/>
<g transform="translate(40.9 894.47) scale(1 1.04)"><text x="-7.23" font-size="13">0</text></g>
<g class="tt" transform="translate(12.85 832.3) rotate(-90) scale(1.0154 1.02)"><text x="-70.85" font-size="15">TNF-α (fold change)</text></g>
<rect x="288.6" y="851.4" width="26.8" height="38.9" fill="#fff" stroke="#000" stroke-width="1.5"/>
<rect x="331.4" y="829.2" width="27" height="61.1" fill="#fff" stroke="#000" stroke-width="1.5"/>
<rect x="374.6" y="843.1" width="27" height="47.2" fill="#fff" stroke="#000" stroke-width="1.5"/>
<rect x="417.7" y="837.3" width="26.7" height="53" fill="#fff" stroke="#000" stroke-width="1.5"/>
<path d="M302 841.2V860.2M295.25 841.2H308.75M295.25 860.2H308.75" stroke="#000" stroke-width="1.6" fill="none"/>
<circle cx="291" cy="837.3" r="3.15"/>
<circle cx="302.2" cy="838.7" r="3.15"/>
<circle cx="291" cy="853.3" r="3.15"/>
<circle cx="302.2" cy="854.3" r="3.15"/>
<circle cx="313.5" cy="852.3" r="3.15"/>
<circle cx="291" cy="861.4" r="3.15"/>
<circle cx="313.5" cy="859.2" r="3.15"/>
<text transform="translate(303.6 909.25) scale(1 1.07)" font-size="13" text-anchor="middle">NC</text>
<path d="M344.9 799.7V858.4M338.15 799.7H351.65M338.15 858.4H351.65" stroke="#000" stroke-width="1.6" fill="none"/>
<circle cx="345" cy="789.5" r="3.15"/>
<circle cx="345" cy="800" r="3.15"/>
<circle cx="345" cy="813.5" r="3.15"/>
<circle cx="339.2" cy="839.2" r="3.15"/>
<circle cx="351.1" cy="836.2" r="3.15"/>
<circle cx="345" cy="857.7" r="3.15"/>
<circle cx="345" cy="869" r="3.15"/>
<text transform="translate(345.95 909.25) scale(1 1.07)" font-size="13" text-anchor="middle">SCG</text>
<path d="M388.1 819.7V865M381.35 819.7H394.85M381.35 865H394.85" stroke="#000" stroke-width="1.6" fill="none"/>
<circle cx="387.7" cy="798.3" r="3.15"/>
<circle cx="381.9" cy="837.7" r="3.15"/>
<circle cx="393.6" cy="836.2" r="3.15"/>
<circle cx="387.7" cy="845.6" r="3.15"/>
<circle cx="381.9" cy="852.9" r="3.15"/>
<circle cx="393.6" cy="856.2" r="3.15"/>
<circle cx="387.7" cy="868.9" r="3.15"/>
<text transform="translate(387.2 909.25) scale(1 1.07)" font-size="13" text-anchor="middle">LL</text>
<path d="M431.05 817.3V855.8M424.3 817.3H437.8M424.3 855.8H437.8" stroke="#000" stroke-width="1.6" fill="none"/>
<circle cx="430.8" cy="807.3" r="3.15"/>
<circle cx="430.8" cy="819.7" r="3.15"/>
<circle cx="430.8" cy="831" r="3.15"/>
<circle cx="419.6" cy="841.2" r="3.15"/>
<circle cx="442" cy="844.1" r="3.15"/>
<circle cx="430.8" cy="847" r="3.15"/>
<circle cx="430.8" cy="866" r="3.15"/>
<text transform="translate(430.6 909.25) scale(1 1.07)" font-size="13" text-anchor="middle">LH</text>
<path d="M274 772.6V890.3H458.1" stroke="#000" stroke-width="1.7" fill="none" stroke-linecap="square"/>
<path d="M274 772.6H279" stroke="#000" stroke-width="1.7"/>
<g transform="translate(270.4 778.37) scale(1 1.04)"><text x="-7.23" font-size="13">3</text></g>
<path d="M274 812H279" stroke="#000" stroke-width="1.7"/>
<g transform="translate(270.4 817.97) scale(1 1.04)"><text x="-7.23" font-size="13">2</text></g>
<path d="M274 851.4H279" stroke="#000" stroke-width="1.7"/>
<g transform="translate(270.4 856.47) scale(1 1.04)"><path d="M-1.97 0.00L-3.76 0.00L-3.76 -6.76Q-5.02 -5.59 -6.45 -4.94L-6.45 -6.57Q-4.37 -7.47 -3.20 -9.31L-1.97 -9.31Z" stroke="#000" stroke-width="0.3"/></g>
<path d="M274 890.3H279" stroke="#000" stroke-width="1.7"/>
<g transform="translate(270.4 894.97) scale(1 1.04)"><text x="-7.23" font-size="13">0</text></g>
<g class="tt" transform="translate(239.55 833.3) rotate(-90) scale(1.0245 1.02)"><text x="-66.67" font-size="15">IL-</text><path d="M-42.27 0.00L-44.34 0.00L-44.34 -7.80Q-45.79 -6.45 -47.44 -5.70L-47.44 -7.58Q-45.04 -8.62 -43.69 -10.74L-42.27 -10.74Z" stroke="#000" stroke-width="0.3"/><text x="-40.00" font-size="15">0 (fold change)</text></g>
<rect x="515.1" y="860.6" width="26.7" height="29.2" fill="#fff" stroke="#000" stroke-width="1.5"/>
<rect x="557.4" y="848.9" width="26.8" height="40.9" fill="#fff" stroke="#000" stroke-width="1.5"/>
<rect x="599.6" y="835.8" width="26.6" height="54" fill="#fff" stroke="#000" stroke-width="1.5"/>
<rect x="641.6" y="835.8" width="26.6" height="54" fill="#fff" stroke="#000" stroke-width="1.5"/>
<path d="M528.45 857.3V862.1M521.7 857.3H535.2M521.7 862.1H535.2" stroke="#000" stroke-width="1.6" fill="none"/>
<circle cx="517.4" cy="858.1" r="3.15"/>
<circle cx="523.3" cy="858.7" r="3.15"/>
<circle cx="528.7" cy="859.6" r="3.15"/>
<circle cx="534.1" cy="856.7" r="3.15"/>
<circle cx="539.6" cy="858.4" r="3.15"/>
<circle cx="523.3" cy="866" r="3.15"/>
<circle cx="534.1" cy="864.3" r="3.15"/>
<text transform="translate(530.8 909.45) scale(1 1.07)" font-size="13" text-anchor="middle">NC</text>
<path d="M570.8 828.9V868.4M564.05 828.9H577.55M564.05 868.4H577.55" stroke="#000" stroke-width="1.6" fill="none"/>
<circle cx="570.6" cy="812" r="3.15"/>
<circle cx="570.6" cy="832.9" r="3.15"/>
<circle cx="564.7" cy="852.6" r="3.15"/>
<circle cx="576.4" cy="850.4" r="3.15"/>
<circle cx="564.7" cy="859.6" r="3.15"/>
<circle cx="576.4" cy="863.5" r="3.15"/>
<circle cx="564.7" cy="867.9" r="3.15"/>
<text transform="translate(573.1 909.45) scale(1 1.07)" font-size="13" text-anchor="middle">SCG</text>
<path d="M612.9 815.4V854.8M606.15 815.4H619.65M606.15 854.8H619.65" stroke="#000" stroke-width="1.6" fill="none"/>
<circle cx="612.7" cy="799.3" r="3.15"/>
<circle cx="618.6" cy="823.7" r="3.15"/>
<circle cx="606.9" cy="827.5" r="3.15"/>
<circle cx="618.6" cy="842.1" r="3.15"/>
<circle cx="606.9" cy="844.1" r="3.15"/>
<circle cx="606.9" cy="854.8" r="3.15"/>
<circle cx="618.6" cy="854.8" r="3.15"/>
<path d="M610.75 779.65H618.75M610.75 783.45H618.75" stroke="#000" stroke-width="1.75" fill="none"/><path d="M614.2 776.4L611.95 786.6M617.85 776.4L615.5 786.6" stroke="#000" stroke-width="1.6" fill="none"/>
<text transform="translate(614.5 909.45) scale(1 1.07)" font-size="13" text-anchor="middle">LL</text>
<path d="M654.9 815.8V853.8M648.15 815.8H661.65M648.15 853.8H661.65" stroke="#000" stroke-width="1.6" fill="none"/>
<circle cx="654.8" cy="799.7" r="3.15"/>
<circle cx="666" cy="824.1" r="3.15"/>
<circle cx="654.8" cy="829.5" r="3.15"/>
<circle cx="654.8" cy="835.8" r="3.15"/>
<circle cx="654.8" cy="849.7" r="3.15"/>
<circle cx="665.6" cy="849.7" r="3.15"/>
<circle cx="643.7" cy="854.3" r="3.15"/>
<path d="M652.35 780.35H660.35M652.35 784.15H660.35" stroke="#000" stroke-width="1.75" fill="none"/><path d="M655.8 777.1L653.55 787.3M659.45 777.1L657.1 787.3" stroke="#000" stroke-width="1.6" fill="none"/>
<text transform="translate(657.5 909.45) scale(1 1.07)" font-size="13" text-anchor="middle">LH</text>
<path d="M500.6 773V889.8H683.1" stroke="#000" stroke-width="1.7" fill="none" stroke-linecap="square"/>
<path d="M500.6 773H505.6" stroke="#000" stroke-width="1.7"/>
<g transform="translate(496.8 778.77) scale(1 1.04)"><text x="-7.23" font-size="13">4</text></g>
<path d="M500.6 802.7H505.6" stroke="#000" stroke-width="1.7"/>
<path d="M500.6 831.4H505.6" stroke="#000" stroke-width="1.7"/>
<g transform="translate(496.8 835.47) scale(1 1.04)"><text x="-7.23" font-size="13">2</text></g>
<path d="M500.6 861.1H505.6" stroke="#000" stroke-width="1.7"/>
<path d="M500.6 889.8H505.6" stroke="#000" stroke-width="1.7"/>
<g transform="translate(496.8 891.97) scale(1 1.04)"><text x="-7.23" font-size="13">0</text></g>
<g class="tt" transform="translate(470.85 830.5) rotate(-90) scale(1.0248 1.02)"><text x="-41.28" font-size="15">TNF-α/IL-</text><path d="M30.67 0.00L28.60 0.00L28.60 -7.80Q27.14 -6.45 25.49 -5.70L25.49 -7.58Q27.89 -8.62 29.24 -10.74L30.67 -10.74Z" stroke="#000" stroke-width="0.3"/><text x="32.93" font-size="15">0</text></g>
</svg>
</body></html>
